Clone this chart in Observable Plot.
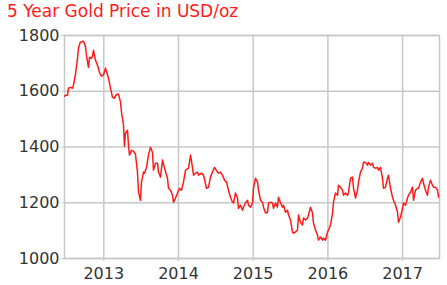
<!DOCTYPE html>
<html>
<head>
<meta charset="utf-8">
<script src="https://cdn.jsdelivr.net/npm/d3@7"></script>
<script src="https://cdn.jsdelivr.net/npm/@observablehq/plot@0.6"></script>
<style>
  html, body { margin: 0; padding: 0; background: #fff; }
  #title { font-family: "DejaVu Sans", sans-serif; font-size: 17px; line-height: 23px; height: 25px; color: #ff1a1a; padding-left: 7px; white-space: nowrap; }
  #chart svg { display: block; }
</style>
</head>
<body>
<div id="title">5 Year Gold Price in USD/oz</div>
<div id="chart"></div>
<script>
// Decimal year of each observation
const years = [
  2012.474, 2012.487, 2012.514, 2012.527, 2012.554, 2012.581, 2012.594, 2012.621, 2012.648, 2012.661,
  2012.675, 2012.688, 2012.715, 2012.728, 2012.755, 2012.768, 2012.795, 2012.809, 2012.835, 2012.849,
  2012.862, 2012.889, 2012.916, 2012.942, 2012.969, 2012.996, 2013.023, 2013.050, 2013.063, 2013.090,
  2013.116, 2013.143, 2013.170, 2013.197, 2013.224, 2013.237, 2013.264, 2013.277, 2013.290, 2013.317,
  2013.331, 2013.344, 2013.371, 2013.398, 2013.424, 2013.451, 2013.465, 2013.491, 2013.505, 2013.532,
  2013.545, 2013.572, 2013.598, 2013.625, 2013.652, 2013.665, 2013.692, 2013.719, 2013.732, 2013.759,
  2013.786, 2013.813, 2013.853, 2013.866, 2013.893, 2013.920, 2013.933, 2013.960, 2013.987, 2014.013,
  2014.040, 2014.067, 2014.094, 2014.134, 2014.161, 2014.187, 2014.201, 2014.228, 2014.254, 2014.268,
  2014.308, 2014.335, 2014.375, 2014.402, 2014.428, 2014.455, 2014.482, 2014.522, 2014.535, 2014.562,
  2014.589, 2014.616, 2014.643, 2014.669, 2014.696, 2014.723, 2014.737, 2014.763, 2014.790, 2014.803,
  2014.830, 2014.857, 2014.870, 2014.897, 2014.924, 2014.937, 2014.964, 2014.991, 2015.004, 2015.031,
  2015.058, 2015.071, 2015.098, 2015.125, 2015.138, 2015.165, 2015.192, 2015.205, 2015.232, 2015.258,
  2015.272, 2015.299, 2015.325, 2015.339, 2015.366, 2015.392, 2015.406, 2015.433, 2015.459, 2015.473,
  2015.499, 2015.526, 2015.540, 2015.566, 2015.593, 2015.607, 2015.633, 2015.660, 2015.673, 2015.700,
  2015.727, 2015.740, 2015.767, 2015.794, 2015.807, 2015.834, 2015.861, 2015.874, 2015.901, 2015.928,
  2015.941, 2015.968, 2015.995, 2016.008, 2016.035, 2016.062, 2016.075, 2016.102, 2016.129, 2016.142,
  2016.169, 2016.196, 2016.209, 2016.236, 2016.263, 2016.276, 2016.303, 2016.329, 2016.343, 2016.370,
  2016.396, 2016.410, 2016.436, 2016.463, 2016.477, 2016.503, 2016.530, 2016.544, 2016.570, 2016.597,
  2016.611, 2016.637, 2016.664, 2016.678, 2016.704, 2016.731, 2016.744, 2016.771, 2016.798, 2016.811,
  2016.838, 2016.865, 2016.878, 2016.905, 2016.932, 2016.945, 2016.972, 2016.999, 2017.012, 2017.039,
  2017.066, 2017.079, 2017.106, 2017.133, 2017.146, 2017.173, 2017.200, 2017.213, 2017.240, 2017.266,
  2017.280, 2017.307, 2017.333, 2017.347, 2017.373, 2017.400, 2017.414, 2017.440, 2017.467, 2017.481
];
// Gold price, USD per ounce
const prices = [
  1582, 1586, 1586, 1611, 1614, 1611, 1622, 1661, 1718, 1754,
  1768, 1776, 1779, 1779, 1761, 1729, 1686, 1722, 1718, 1726,
  1747, 1711, 1693, 1668, 1654, 1658, 1683, 1658, 1647, 1611,
  1579, 1575, 1589, 1589, 1561, 1525, 1478, 1403, 1449, 1460,
  1406, 1371, 1388, 1385, 1374, 1310, 1238, 1209, 1274, 1310,
  1306, 1327, 1371, 1399, 1381, 1317, 1342, 1342, 1310, 1292,
  1353, 1324, 1288, 1252, 1245, 1227, 1202, 1217, 1235, 1252,
  1245, 1274, 1317, 1324, 1371, 1327, 1299, 1306, 1310, 1299,
  1306, 1299, 1252, 1256, 1292, 1310, 1327, 1310, 1306, 1310,
  1299, 1281, 1274, 1245, 1220, 1202, 1199, 1235, 1217, 1180,
  1191, 1173, 1184, 1199, 1209, 1191, 1184, 1199, 1252, 1288,
  1274, 1245, 1209, 1202, 1184, 1163, 1166, 1199, 1202, 1199,
  1180, 1199, 1184, 1220, 1199, 1184, 1191, 1166, 1173, 1156,
  1138, 1095, 1091, 1095, 1102, 1156, 1130, 1120, 1145, 1138,
  1145, 1156, 1184, 1163, 1127, 1102, 1084, 1066, 1077, 1066,
  1073, 1066, 1095, 1102, 1120, 1163, 1202, 1235, 1227, 1263,
  1256, 1245, 1227, 1235, 1227, 1238, 1288, 1292, 1252, 1217,
  1245, 1274, 1310, 1324, 1345, 1345, 1335, 1345, 1335, 1342,
  1327, 1324, 1327, 1317, 1327, 1288, 1252, 1256, 1288, 1299,
  1252, 1220, 1209, 1191, 1166, 1130, 1148, 1180, 1199, 1191,
  1217, 1227, 1238, 1256, 1209, 1245, 1252, 1252, 1274, 1288,
  1270, 1245, 1227, 1256, 1281, 1263, 1256, 1256, 1245, 1220
];
const yearTicks = [2013, 2014, 2015, 2016, 2017];
const priceTicks = [1000, 1200, 1400, 1600, 1800];
const xRange = [2012.474, 2017.494];
const yRange = [1000, 1800];

const data = years.map((t, i) => ({t, price: prices[i]}));
const gridColor = "#c8c8c8";

const chart = Plot.plot({
  width: 447,
  height: 260,
  marginTop: 10,
  marginBottom: 27,
  marginLeft: 64,
  marginRight: 8,
  style: {fontFamily: "DejaVu Sans, sans-serif", fontSize: "16px", color: "#333", background: "#fff"},
  x: {domain: xRange, label: null},
  y: {domain: yRange, label: null},
  marks: [
    Plot.gridX(yearTicks, {stroke: gridColor, strokeOpacity: 1, strokeWidth: 1.5}),
    Plot.gridY(priceTicks, {stroke: gridColor, strokeOpacity: 1, strokeWidth: 1.5}),
    Plot.frame({stroke: gridColor, strokeWidth: 1.5}),
    Plot.axisX({ticks: yearTicks, tickSize: 3, tickPadding: 6, stroke: gridColor, strokeOpacity: 1, fill: "#333", tickFormat: d => String(d), label: null}),
    Plot.axisY({ticks: priceTicks, tickSize: 3, tickPadding: 2, stroke: gridColor, strokeOpacity: 1, fill: "#333", tickFormat: d => String(d), label: null}),
    Plot.line(data, {x: "t", y: "price", stroke: "#ff1a1a", strokeWidth: 1.5})
  ]
});
document.getElementById("chart").appendChild(chart);
</script>
</body>
</html>
